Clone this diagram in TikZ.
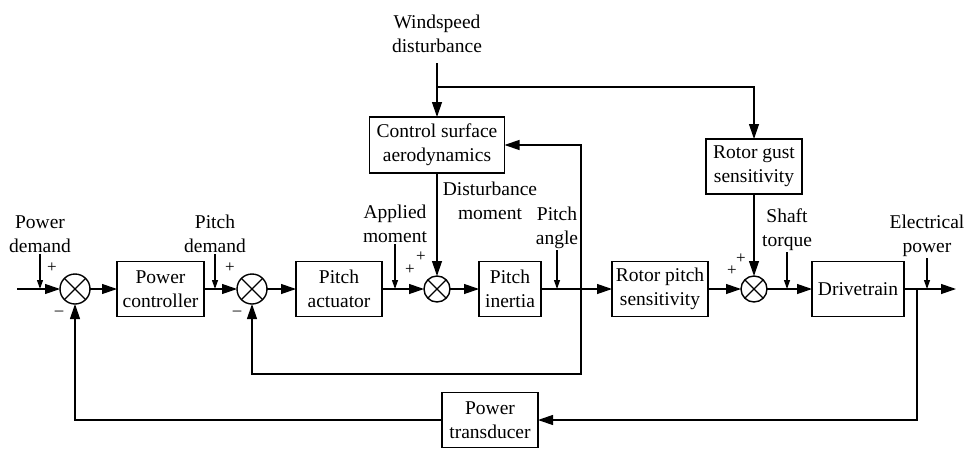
\documentclass[tikz,border=0pt]{standalone}
\usepackage{fontspec}
\setmainfont{Liberation Serif}
\usetikzlibrary{positioning,arrows.meta}

\begin{document}
\begin{tikzpicture}[
    x=1pt, y=-1pt,
    node distance=30pt,
    block/.style={rectangle, draw=black, line width=1.6pt, minimum height=55pt, inner sep=2pt, outer sep=0pt, align=center, font=\fontsize{19.5}{24}\selectfont},
    summer/.style={circle, draw=black, line width=1.4pt, minimum size=30pt, inner sep=0pt, outer sep=0pt, path picture={\draw[line width=1.2pt] (path picture bounding box.north west) -- (path picture bounding box.south east) (path picture bounding box.south west) -- (path picture bounding box.north east);}},
    lbl/.style={align=center, inner sep=1pt, font=\fontsize{19.5}{24}\selectfont},
    sign/.style={inner sep=0pt, font=\fontsize{17}{17}\selectfont},
    arrow/.style={-{Triangle[length=15pt, width=10pt]}, line width=1.2pt},
    tick/.style={-{Triangle[length=9pt, width=6pt]}, line width=1.2pt}
]
\useasboundingbox (0,0) rectangle (969,450);

\node[summer] (sum1) at (75,289) {};
\node[block, minimum width=87pt, right=27pt of sum1] (pc) {Power\\controller};
\node[summer, right=33pt of pc] (sum2) {};
\node[block, minimum width=86pt, right=29pt of sum2] (pa) {Pitch\\actuator};
\node[summer, minimum size=26pt, right=42pt of pa] (sum3) {};
\node[block, minimum width=62pt, right=29pt of sum3] (pi) {Pitch\\inertia};
\node[block, minimum width=96pt, right=71pt of pi] (rps) {Rotor pitch\\sensitivity};
\node[summer, minimum size=26pt, right=33pt of rps] (sum4) {};
\node[block, minimum width=92pt, right=45pt of sum4] (dt) {Drivetrain};

\node[block, minimum width=135pt, minimum height=56pt, above=103pt of sum3] (csa) {Control surface\\aerodynamics};
\node[block, minimum width=96pt, above=82pt of sum4] (rgs) {Rotor gust\\sensitivity};
\node[block, minimum width=96pt] (pt) at (490,420) {Power\\transducer};

\node[lbl] (wind) at (437,34) {Windspeed\\disturbance};
\node[lbl] (pdem) at (40,234) {Power\\demand};
\node[lbl] (ptdem) at (215,234) {Pitch\\demand};
\node[lbl] (appm) at (395,224) {Applied\\moment};
\node[lbl] (distm) at (490,201) {Disturbance\\moment};
\node[lbl] (pang) at (557,228) {Pitch\\angle};
\node[lbl] (shaft) at (787,230) {Shaft\\torque};
\node[lbl] (elec) at (927,236) {Electrical\\power};

\node[sign] (s1p) at (52,268) {+};
\node[sign] (s1m) at (59,313) {–};
\node[sign] (s2p) at (230,268) {+};
\node[sign] (s2m) at (237,313) {–};
\node[sign] (s3a) at (410,270) {+};
\node[sign] (s3b) at (421,257) {+};
\node[sign] (s4a) at (732,271) {+};
\node[sign] (s4b) at (741,259) {+};

\coordinate[left=43pt of sum1] (in);
\coordinate[right=40pt of pi] (tap1);
\coordinate[right=13pt of dt] (tap2);
\coordinate[right=52pt of dt] (out);
\coordinate (ws) at (437,87);

\draw[arrow] (in) -- (sum1);
\draw[arrow] (sum1) -- (pc);
\draw[arrow] (pc) -- (sum2);
\draw[arrow] (sum2) -- (pa);
\draw[arrow] (pa) -- (sum3);
\draw[arrow] (sum3) -- (pi);
\draw[arrow] (pi) -- (rps);
\draw[arrow] (rps) -- (sum4);
\draw[arrow] (sum4) -- (dt);
\draw[arrow] (dt) -- (out);

\draw[arrow, shorten <=9pt] (wind.south) -- (csa.north);
\draw[arrow] (ws) -| (rgs.north);
\draw[arrow] (csa.south) -- (sum3.north);
\draw[arrow] (rgs.south) -- (sum4.north);
\draw[arrow] (tap1) |- (csa.east);
\draw[arrow] (tap1) -- ++(0,85) -| (sum2.south);
\draw[arrow] (tap2) |- (pt.east);
\draw[arrow] (pt.west) -| (sum1.south);

\draw[tick] (pdem.south) -- (pdem.south |- sum1);
\draw[tick] (ptdem.south) -- (ptdem.south |- sum2);
\draw[tick] (appm.south) -- (appm.south |- sum3);
\draw[tick] (pang.south) -- (pang.south |- pi);
\draw[tick] (shaft.south) -- (shaft.south |- sum4);
\draw[tick] (elec.south) -- (elec.south |- dt);

\end{tikzpicture}
\end{document}
